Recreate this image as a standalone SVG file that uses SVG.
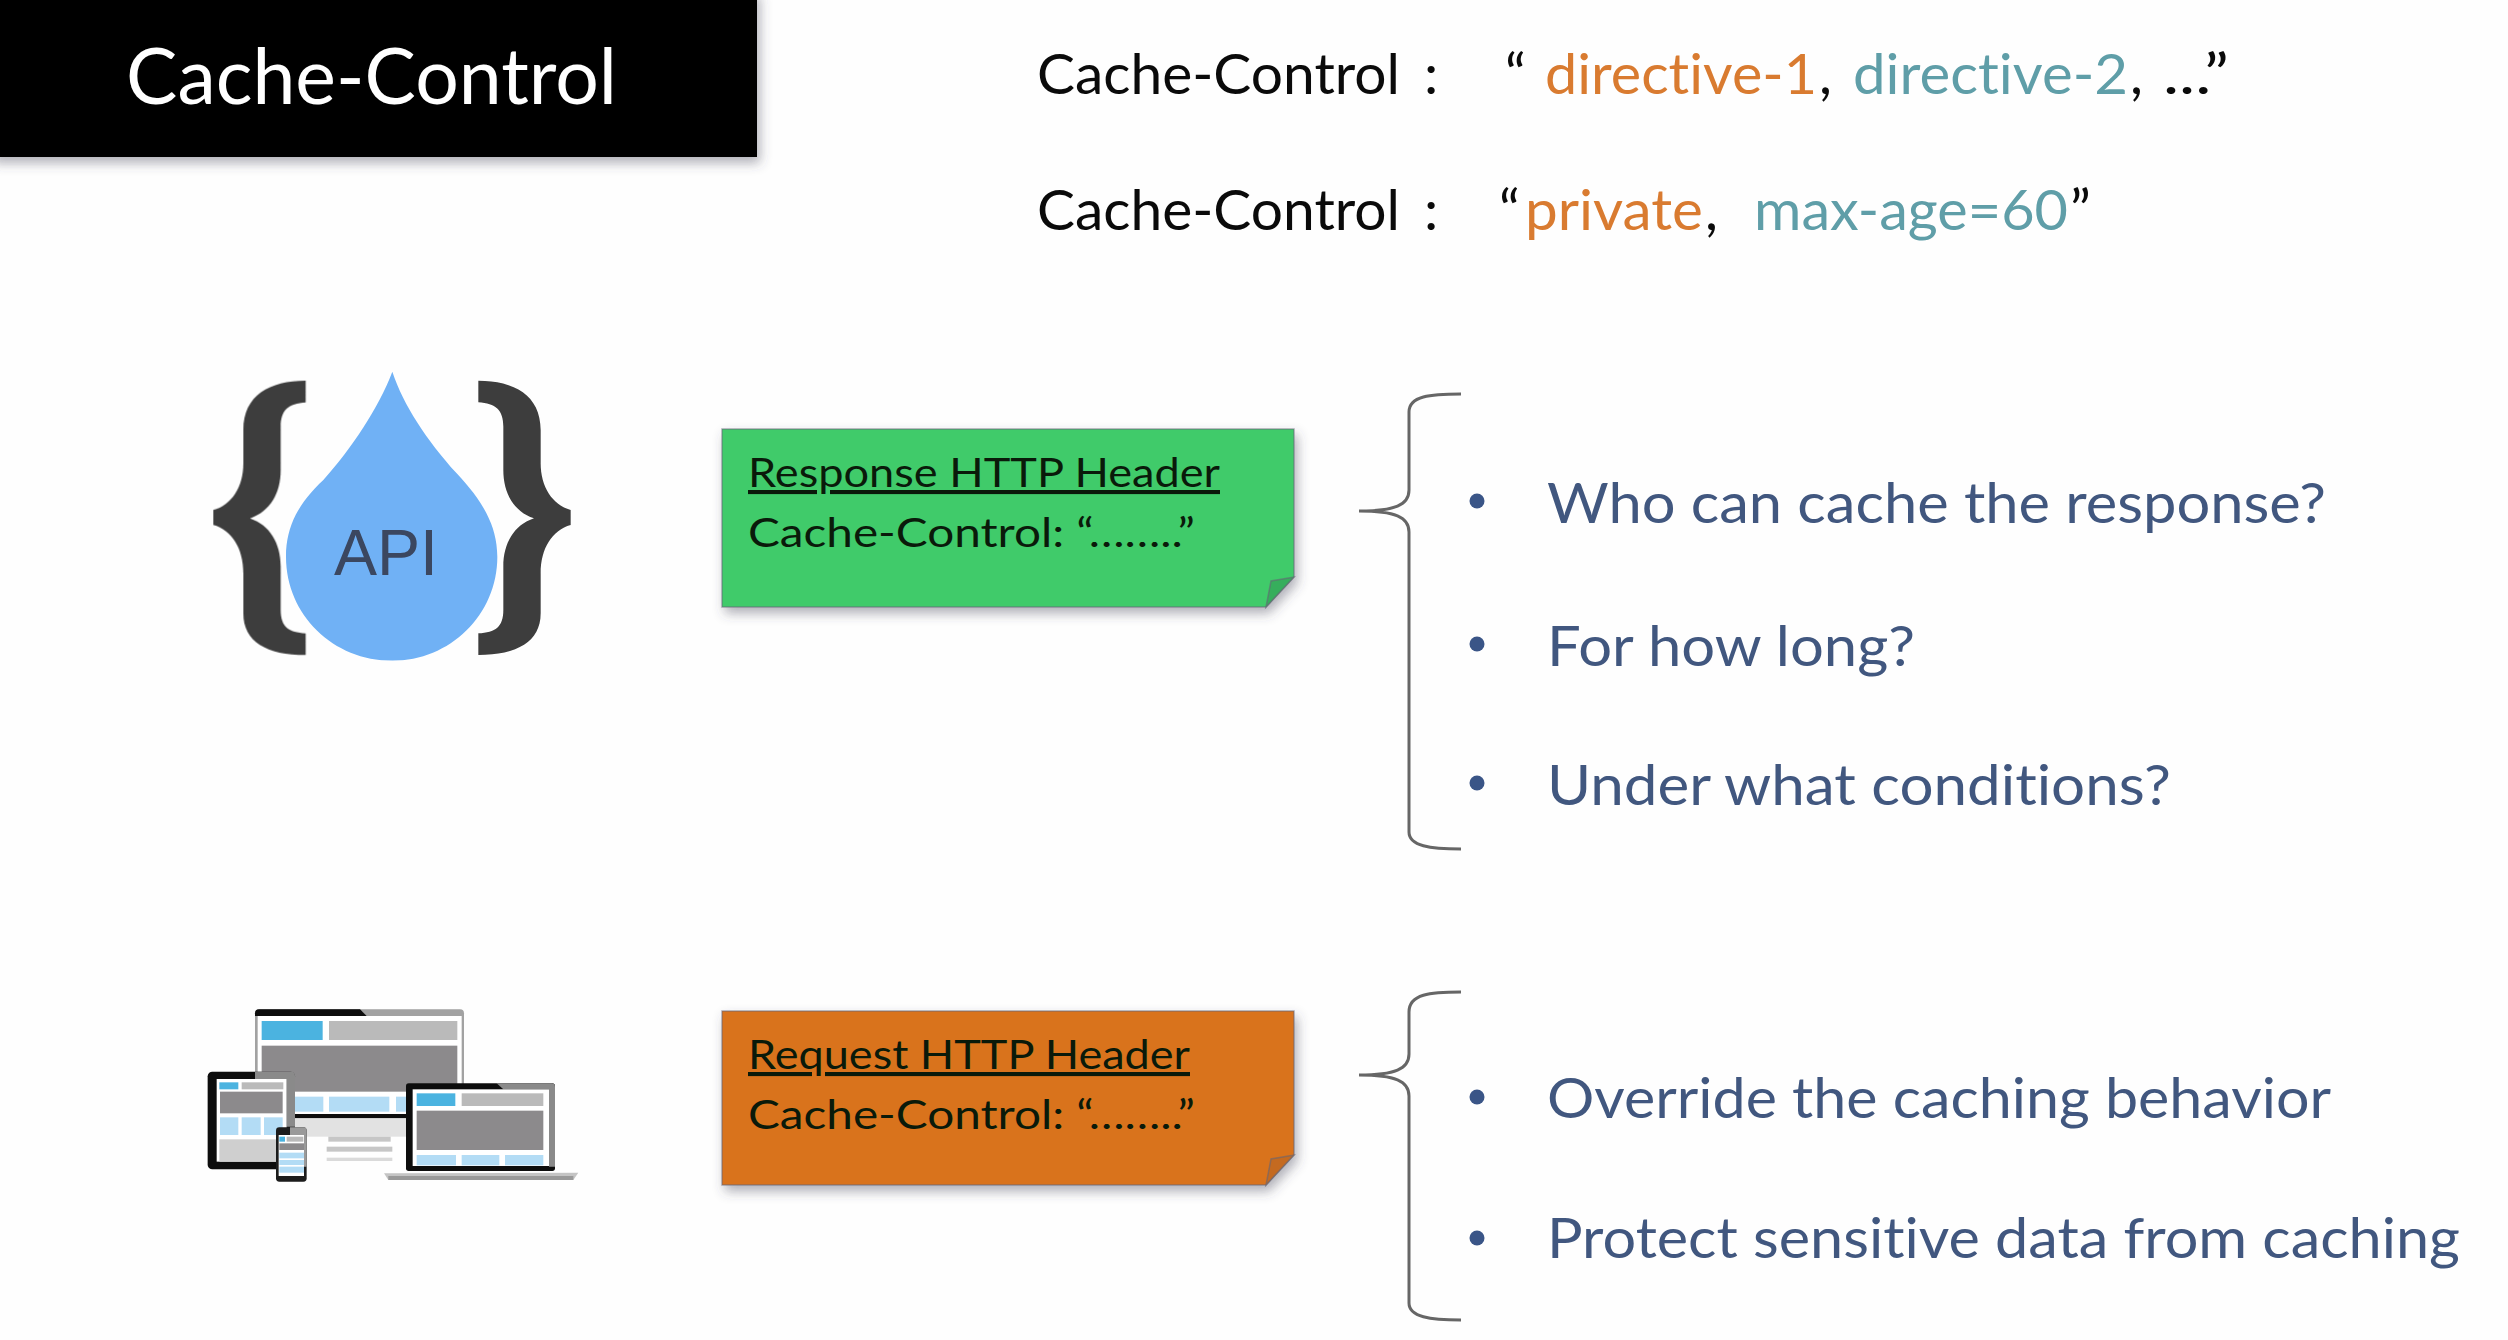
<svg xmlns="http://www.w3.org/2000/svg" width="2508" height="1340" viewBox="0 0 2508 1340">
<style>
text{font-family:"Lato","Open Sans","Liberation Sans",sans-serif;font-variant-ligatures:none}
.k{fill:#0a0a0a}
.o{fill:#d97b30}
.t{fill:#5f9ea8}
.hd{font-size:57px}
.nt{font-size:41px;fill:#0a1a0a}
.b{font-size:56px;fill:#41577f}
.dot{fill:#3a5587}
.br{fill:none;stroke:#666;stroke-width:3}
.edge{stroke:#667;stroke-opacity:.55;stroke-width:1.5}
.fold{stroke:#667;stroke-opacity:.6;stroke-width:1.5}
.lb{fill:#b3dcf5}.bl{fill:#4cb3e0}.gr{fill:#bababa}.dg{fill:#8c8a8c}.wh{fill:#fff}
</style>
<defs>
<filter id="sh" x="-5%" y="-10%" width="112%" height="130%"><feDropShadow dx="3" dy="6" stdDeviation="6" flood-color="#445" flood-opacity=".42"/></filter>
<filter id="soft" x="-5%" y="-5%" width="110%" height="110%"><feGaussianBlur stdDeviation="1"/></filter>
<path id="cb" fill="#3c3c3c" d="M437,122C330,122 250,165 250,270L250,370C250,440 215,495 160,510L160,555C215,570 250,625 250,700L250,820C250,905 320,945 437,945L437,880C385,878 362,860 362,810L362,680C362,610 330,555 270,535C330,515 362,460 362,390L362,260C362,210 385,190 437,187Z"/>
</defs>
<rect width="2508" height="1340" fill="#fefefe"/>

<g id="title">
<rect x="-10" y="-10" width="767" height="167" fill="#000" filter="url(#sh)"/>
<text x="126" y="104" font-size="78" fill="#fff" textLength="491" lengthAdjust="spacingAndGlyphs">Cache-Control</text>
</g>

<g id="syntax">
<text class="hd k" x="1037" y="94" textLength="363" lengthAdjust="spacingAndGlyphs">Cache-Control</text>
<text class="hd k" x="1424" y="94">:</text>
<text class="hd k" x="1505" y="94">“</text>
<text class="hd o" x="1545" y="94" textLength="272" lengthAdjust="spacingAndGlyphs">directive-1</text>
<text class="hd k" x="1819" y="94">,</text>
<text class="hd t" x="1853" y="94" textLength="275" lengthAdjust="spacingAndGlyphs">directive-2</text>
<text class="hd k" x="2130" y="94">,</text>
<text class="hd k" x="2163" y="94" textLength="66" lengthAdjust="spacingAndGlyphs">...”</text>
<text class="hd k" x="1037" y="230" textLength="363" lengthAdjust="spacingAndGlyphs">Cache-Control</text>
<text class="hd k" x="1424" y="230">:</text>
<text class="hd k" x="1499" y="230">“</text>
<text class="hd o" x="1525" y="230" textLength="178" lengthAdjust="spacingAndGlyphs">private</text>
<text class="hd k" x="1705" y="230">,</text>
<text class="hd t" x="1754" y="230" textLength="314" lengthAdjust="spacingAndGlyphs">max-age=60</text>
<text class="hd k" x="2070" y="230">”</text>
</g>

<g id="api-icon" transform="translate(160,340) scale(.33333)" filter="url(#soft)">
<use href="#cb"/>
<use href="#cb" transform="translate(1392,0) scale(-1,1)"/>
<path fill="#70b1f5" d="M697,95C730,195 800,300 890,400C965,480 1012,555 1012,650C1012,825 870,962 697,962C520,962 378,825 378,650C378,555 420,485 490,420C575,325 655,205 697,95Z"/>
<text x="522" y="705" font-size="195" fill="#3a4660" style="font-family:'Liberation Sans',sans-serif" textLength="312" lengthAdjust="spacingAndGlyphs">API</text>
</g>

<g id="devices-icon" transform="translate(180,980) scale(.33333)" filter="url(#soft)">
<rect x="225" y="88" width="627" height="325" rx="12" fill="#a2a2a2"/>
<path d="M225,108V100Q225,88 237,88H540L560,108Z" fill="#0c0c0c"/>
<rect x="233" y="108" width="612" height="296" fill="#fff"/>
<rect class="bl" x="245" y="123" width="183" height="57"/>
<rect class="gr" x="447" y="123" width="385" height="57"/>
<rect class="dg" x="245" y="197" width="587" height="138"/>
<rect class="lb" x="345" y="350" width="85" height="45"/>
<rect class="lb" x="447" y="350" width="181" height="45"/>
<rect class="lb" x="648" y="350" width="40" height="45"/>
<rect x="340" y="402" width="345" height="13" fill="#111"/>
<rect x="345" y="415" width="340" height="55" fill="#e2e2e2"/>
<rect x="445" y="470" width="187" height="15" fill="#c6c6c6"/>
<rect x="440" y="500" width="197" height="15" fill="#c6c6c6"/>
<rect x="440" y="533" width="197" height="10" fill="#dadada"/>

<rect x="83" y="275" width="262" height="293" rx="14" fill="#0c0c0c"/>
<path d="M225,275H333Q345,275 345,287V440H320V297H225Z" fill="#8a8a8a"/>
<rect x="110" y="297" width="210" height="248" fill="#fff"/>
<rect class="bl" x="118" y="307" width="57" height="21"/>
<rect class="gr" x="185" y="307" width="125" height="21"/>
<rect class="dg" x="120" y="335" width="188" height="65"/>
<rect class="lb" x="120" y="412" width="55" height="53"/>
<rect class="lb" x="185" y="412" width="57" height="53"/>
<rect class="lb" x="252" y="412" width="56" height="53"/>
<rect x="118" y="478" width="192" height="67" fill="#cfcfcf"/>

<rect x="288" y="442" width="92" height="163" rx="10" fill="#1a1a1a"/>
<path d="M330,442H370Q380,442 380,452V560H372V465H330Z" fill="#9a9a9a"/>
<rect x="296" y="465" width="76" height="123" fill="#fff"/>
<rect class="bl" x="298" y="470" width="17" height="15"/>
<rect class="gr" x="320" y="470" width="50" height="15"/>
<rect class="dg" x="298" y="490" width="74" height="20"/>
<rect class="lb" x="298" y="518" width="74" height="17"/>
<rect class="lb" x="298" y="540" width="74" height="15"/>
<rect class="lb" x="298" y="560" width="74" height="18"/>

<rect x="678" y="310" width="447" height="263" rx="8" fill="#111"/>
<path d="M950,310H1115Q1125,310 1125,320V560H1107V328H970Z" fill="#8a8a8a"/>
<rect x="698" y="328" width="409" height="230" fill="#fff"/>
<rect class="bl" x="710" y="340" width="116" height="38"/>
<rect class="gr" x="845" y="340" width="245" height="38"/>
<rect class="dg" x="710" y="392" width="380" height="118"/>
<rect class="lb" x="710" y="525" width="118" height="31"/>
<rect class="lb" x="845" y="525" width="113" height="31"/>
<rect class="lb" x="975" y="525" width="115" height="31"/>
<path d="M612,580L1195,578L1180,600H625Z" fill="#c4c4c4"/>
<rect x="625" y="588" width="555" height="12" fill="#999"/>
</g>

<g id="response-header">
<path class="edge" d="M722,429H1294V577L1266,607H722Z" fill="#41cb6b" filter="url(#sh)"/>
<path class="fold" d="M1294,577L1266,607L1271,581Z" fill="#36ae5c"/>
<text class="nt" x="748" y="487" textLength="472" lengthAdjust="spacingAndGlyphs" text-decoration="underline">Response HTTP Header</text>
<text class="nt" x="748" y="547" textLength="447" lengthAdjust="spacingAndGlyphs">Cache-Control: “……..”</text>
</g>

<g id="request-header">
<path class="edge" d="M722,1011H1294V1155L1266,1185H722Z" fill="#d9731f" filter="url(#sh)"/>
<path class="fold" d="M1294,1155L1266,1185L1271,1159Z" fill="#c46a20"/>
<text class="nt" x="748" y="1069" textLength="442" lengthAdjust="spacingAndGlyphs" text-decoration="underline">Request HTTP Header</text>
<text class="nt" x="748" y="1129" textLength="447" lengthAdjust="spacingAndGlyphs">Cache-Control: “……..”</text>
</g>

<g id="connectors">
<path class="br" d="M1461,394C1430,394 1409,396 1409,412V490C1409,505 1395,511 1359,511C1395,511 1409,517 1409,532V832C1409,846 1430,849 1461,849"/>
<path class="br" d="M1461,992C1430,992 1409,994 1409,1012V1054C1409,1069 1395,1075 1359,1075C1395,1075 1409,1081 1409,1096V1303C1409,1317 1430,1320 1461,1320"/>
</g>

<g id="response-list">
<circle class="dot" cx="1477" cy="501" r="7.5"/>
<text class="b" x="1547" y="523" textLength="779" lengthAdjust="spacingAndGlyphs">Who can cache the response?</text>
<circle class="dot" cx="1477" cy="644" r="7.5"/>
<text class="b" x="1547" y="666" textLength="368" lengthAdjust="spacingAndGlyphs">For how long?</text>
<circle class="dot" cx="1477" cy="783" r="7.5"/>
<text class="b" x="1547" y="805" textLength="624" lengthAdjust="spacingAndGlyphs">Under what conditions?</text>
</g>

<g id="request-list">
<circle class="dot" cx="1477" cy="1097" r="7.5"/>
<text class="b" x="1547" y="1118" textLength="784" lengthAdjust="spacingAndGlyphs">Override the caching behavior</text>
<circle class="dot" cx="1477" cy="1238" r="7.5"/>
<text class="b" x="1547" y="1258" textLength="913" lengthAdjust="spacingAndGlyphs">Protect sensitive data from caching</text>
</g>
</svg>
